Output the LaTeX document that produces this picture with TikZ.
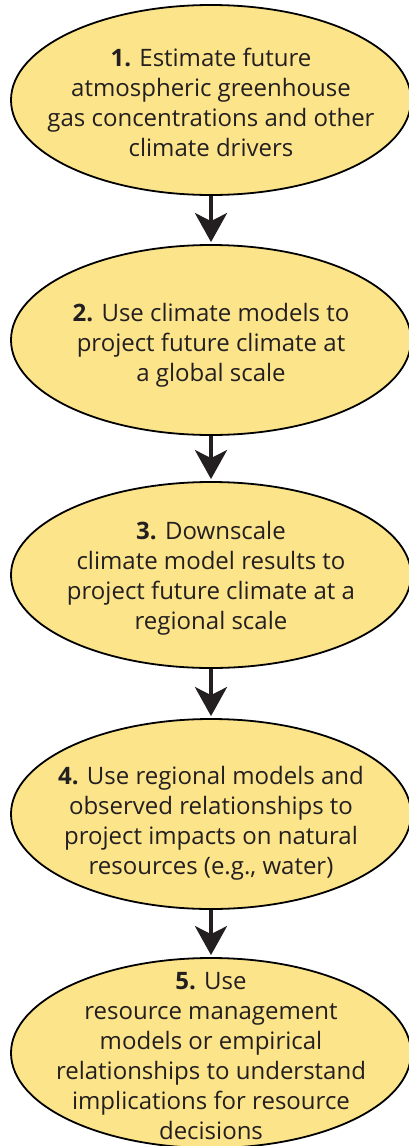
\documentclass[tikz,border=0pt]{standalone}
\usepackage{fontspec}
\setmainfont{Open Sans}
\usetikzlibrary{shapes.geometric,arrows.meta}
\definecolor{ellfill}{HTML}{FCE48A}
\definecolor{txt}{HTML}{231F20}
\tikzset{
  stepell/.style={ellipse, draw=black, line width=1.8pt, fill=ellfill,
    minimum width=400pt, minimum height=190pt, inner sep=0pt},
  steptext/.style={align=center, text=txt, inner sep=0pt,
    font=\fontsize{24}{30}\selectfont},
  flow/.style={draw=txt, line width=4pt,
    -{Stealth[length=29pt,width=32pt,inset=8pt]}, shorten >=2pt}
}
\begin{document}
\begin{tikzpicture}[x=1pt,y=1pt]
\useasboundingbox (0,0) rectangle (409,-1146);
\node[stepell] (e1) at (211,-100) {};
\node[stepell] (e2) at (211,-340) {};
\node[stepell, minimum height=186pt] (e3) at (211,-575) {};
\node[stepell] (e4) at (211,-814) {};
\node[stepell] (e5) at (211,-1053) {};
\node[steptext] (t1) at (211,-102) {\textbf{1.} Estimate future\\atmospheric greenhouse\\gas concentrations and other\\climate drivers};
\node[steptext] (t2) at (211,-345) {\textbf{2.} Use climate models to\\project future climate at\\a global scale};
\node[steptext] (t3) at (211,-578) {\textbf{3.} Downscale\\climate model results to\\project future climate at a\\regional scale};
\node[steptext] (t4) at (211,-823) {\textbf{4.} Use regional models and\\observed relationships to\\project impacts on natural\\resources (e.g., water)};
\node[steptext] (t5) at (211,-1056) {\textbf{5.} Use\\resource management\\models or empirical\\relationships to understand\\ implications for resource\\decisions};
\draw[flow] (e1.south) -- (e2.north);
\draw[flow] (e2.south) -- (e3.north);
\draw[flow] (e3.south) -- (e4.north);
\draw[flow] (e4.south) -- (e5.north);
\end{tikzpicture}
\end{document}
